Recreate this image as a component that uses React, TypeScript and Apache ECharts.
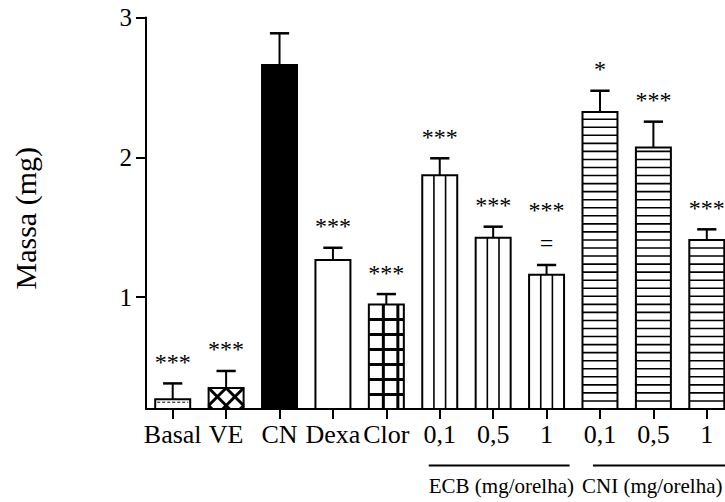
import React, { useEffect, useRef } from "react";
import * as echarts from "echarts";

// ---- data ----
const categories = ["Basal", "VE", "CN", "Dexa", "Clor", "0,1", "0,5", "1", "0,1", "0,5", "1"];
const means = [0.27, 0.35, 2.66, 1.265, 0.948, 1.871, 1.425, 1.16, 2.324, 2.071, 1.408];
const sems = [0.113, 0.122, 0.227, 0.088, 0.074, 0.122, 0.079, 0.07, 0.152, 0.184, 0.077];
const significance = ["***", "***", "", "***", "***", "***", "***", "***\n=", "*", "***", "***"];
const yTicks = [1, 2, 3];
const groupLabels = ["ECB (mg/orelha)", "CNI (mg/orelha)"];
const groupSpans = [
  [5, 7],
  [8, 10],
];
// fill pattern for each bar (style)
const patterns = ["dash", "cross", "solid", "none", "grid", "vert", "vert", "vert", "horiz", "horiz", "horiz"];

const Y_MIN = 0.2;
const Y_MAX = 3;
const FONT = "Liberation Serif, Times New Roman, serif";

function clipLine(px: number, py: number, dx: number, dy: number, x0: number, y0: number, x1: number, y1: number) {
  let t0 = -1e9;
  let t1 = 1e9;
  const checks = [
    [-dx, px - x0],
    [dx, x1 - px],
    [-dy, py - y0],
    [dy, y1 - py],
  ];
  for (const [p, q] of checks) {
    if (p === 0) {
      if (q < 0) return null;
      continue;
    }
    const r = q / p;
    if (p < 0) {
      if (r > t1) return null;
      if (r > t0) t0 = r;
    } else {
      if (r < t0) return null;
      if (r < t1) t1 = r;
    }
  }
  if (t1 - t0 < 0.5) return null;
  return [px + t0 * dx, py + t0 * dy, px + t1 * dx, py + t1 * dy];
}

export default function App() {
  const ref = useRef<HTMLDivElement>(null);

  useEffect(() => {
    if (!ref.current) return;
    const chart = echarts.init(ref.current, null, { renderer: "svg" });

    const barData = means.map((m, i) => [i, m, sems[i]]);

    const option: any = {
      animation: false,
      backgroundColor: "#fff",
      grid: { left: 146, top: 17.5, width: 587.5, height: 391.5 },
      xAxis: {
        type: "category",
        data: categories,
        boundaryGap: true,
        axisLine: { show: true, lineStyle: { color: "#000", width: 2 } },
        axisTick: { show: true, alignWithLabel: true, length: 10, lineStyle: { color: "#000", width: 2 } },
        axisLabel: { interval: 0, color: "#000", fontFamily: FONT, fontSize: 26, margin: 12 },
        splitLine: { show: false },
      },
      yAxis: {
        type: "value",
        min: Y_MIN,
        max: Y_MAX,
        name: "Massa (mg)",
        nameLocation: "middle",
        nameRotate: 90,
        nameGap: 106,
        nameTextStyle: { color: "#000", fontFamily: FONT, fontSize: 30, padding: [0, 10, 0, 0] },
        axisLine: { show: true, lineStyle: { color: "#000", width: 2 } },
        axisTick: { show: true, length: 10, customValues: yTicks, lineStyle: { color: "#000", width: 2 } },
        axisLabel: { color: "#000", fontFamily: FONT, fontSize: 25, margin: 14, customValues: yTicks },
        splitLine: { show: false },
      },
      series: [
        {
          type: "custom",
          name: "bars",
          data: barData,
          encode: { x: 0, y: 1 },
          renderItem: (params: any, api: any) => {
            const i = api.value(0);
            const v = api.value(1);
            const top = api.coord([i, v]);
            const bot = api.coord([i, Y_MIN]);
            const bw = api.size([1, 0])[0] * 0.655;
            const x0 = top[0] - bw / 2;
            const x1 = top[0] + bw / 2;
            const y0 = top[1];
            const y1 = bot[1];
            const p = patterns[i];
            const children: any[] = [];
            children.push({
              type: "rect",
              shape: { x: x0, y: y0, width: bw, height: y1 - y0 },
              style: { fill: p === "solid" ? "#000" : "#fff" },
            });
            const line = (a: number, b: number, c: number, d: number, lw: number, dash?: number[]) =>
              children.push({
                type: "line",
                shape: { x1: a, y1: b, x2: c, y2: d },
                style: { stroke: "#000", lineWidth: lw, lineDash: dash },
              });
            if (p === "vert") {
              line(x0 + bw / 3, y0, x0 + bw / 3, y1, 1.6);
              line(x0 + (2 * bw) / 3, y0, x0 + (2 * bw) / 3, y1, 1.6);
            } else if (p === "horiz") {
              for (let y = y1 - 8.05; y > y0 + 3; y -= 8.05) line(x0, y, x1, y, 1.6);
            } else if (p === "grid") {
              for (let y = y0 + 15; y < y1 - 3; y += 15) line(x0, y, x1, y, 3);
              for (let x = x0 + 14.5; x < x1 - 2; x += 14.5) line(x, y0, x, y1, 3);
            } else if (p === "cross") {
              const P = bw / 2;
              for (let k = -3; k <= 5; k++) {
                const s1 = clipLine(x0 + k * P, y0, 1, 1, x0, y0, x1, y1);
                if (s1) line(s1[0], s1[1], s1[2], s1[3], 3);
                const s2 = clipLine(x0 + k * P, y0, -1, 1, x0, y0, x1, y1);
                if (s2) line(s2[0], s2[1], s2[2], s2[3], 3);
              }
            } else if (p === "dash") {
              line(x0 + 2, y0 + 3, x1 - 2, y0 + 3, 1, [3, 2]);
            }
            children.push({
              type: "rect",
              shape: { x: x0, y: y0, width: bw, height: y1 - y0 },
              style: { fill: "none", stroke: "#000", lineWidth: 2 },
            });
            return { type: "group", children };
          },
          z: 2,
        },
        {
          type: "custom",
          name: "errors",
          data: barData,
          encode: { x: 0, y: 1 },
          renderItem: (params: any, api: any) => {
            const i = api.value(0);
            const m = api.value(1);
            const s = api.value(2);
            const a = api.coord([i, m]);
            const b = api.coord([i, m + s]);
            const cw = api.size([1, 0])[0] * 0.36;
            return {
              type: "group",
              children: [
                { type: "line", shape: { x1: a[0], y1: a[1], x2: b[0], y2: b[1] }, style: { stroke: "#000", lineWidth: 2 } },
                {
                  type: "line",
                  shape: { x1: b[0] - cw / 2, y1: b[1], x2: b[0] + cw / 2, y2: b[1] },
                  style: { stroke: "#000", lineWidth: 2.5 },
                },
                {
                  type: "text",
                  x: b[0],
                  y: b[1] - 5,
                  style: {
                    text: significance[i],
                    align: "center",
                    verticalAlign: "bottom",
                    fontFamily: FONT,
                    fontSize: 24,
                    fill: "#000",
                    lineHeight: 33,
                  },
                },
              ],
            };
          },
          z: 3,
        },
      ],
    };

    chart.setOption(option);

    const cx = (i: number) => chart.convertToPixel({ xAxisIndex: 0 }, i) as number;
    const lineY = 465.5;
    const textY = 486;
    const g0 = groupSpans[0];
    const g1 = groupSpans[1];
    const graphic: any[] = [
      {
        type: "line",
        shape: { x1: cx(g0[0]) - 11, y1: lineY, x2: cx(g0[1]) + 23, y2: lineY },
        style: { stroke: "#000", lineWidth: 2 },
      },
      {
        type: "line",
        shape: { x1: cx(g1[0]) - 7, y1: lineY, x2: cx(g1[1]) + 40, y2: lineY },
        style: { stroke: "#000", lineWidth: 2 },
      },
      {
        type: "text",
        x: cx(g0[0]) - 11,
        y: textY,
        style: { text: groupLabels[0], fontFamily: FONT, fontSize: 21, fill: "#000", align: "left", verticalAlign: "middle" },
      },
      {
        type: "text",
        x: cx(g1[0]) - 18,
        y: textY,
        style: { text: groupLabels[1], fontFamily: FONT, fontSize: 21, fill: "#000", align: "left", verticalAlign: "middle" },
      },
    ];
    chart.setOption({ graphic });

    return () => chart.dispose();
  }, []);

  return (
    <div style={{ position: "fixed", left: 0, top: 0, width: 725, height: 502, overflow: "hidden", background: "#fff" }}>
      <div ref={ref} style={{ width: 760, height: 502 }} />
    </div>
  );
}
